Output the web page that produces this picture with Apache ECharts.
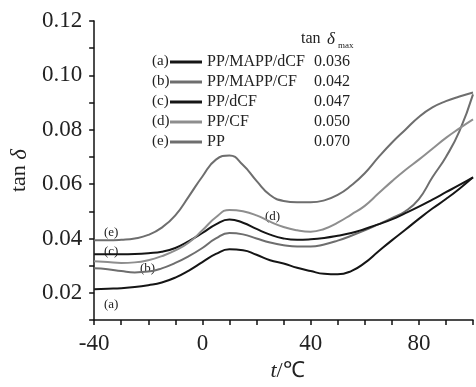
<!DOCTYPE html>
<html>
<head>
<meta charset="utf-8">
<script src="https://cdn.jsdelivr.net/npm/echarts@6/dist/echarts.min.js"></script>
<style>
  html, body { margin: 0; padding: 0; background: #fff; }
  #chart { width: 476px; height: 387px; }
</style>
</head>
<body>
<div id="chart"></div>
<script>
// temperature grid (°C), read every 5 degrees
const temps = [-40, -35, -30, -25, -20, -15, -10, -5, 0, 5, 10, 15, 20, 25, 30, 35, 40, 45, 50, 55, 60, 65, 70, 75, 80, 85, 90, 95, 100];

// tan delta
const tanA = [0.0213, 0.0215, 0.0217, 0.0221, 0.0228, 0.0238, 0.0256, 0.0282, 0.0313, 0.0343, 0.0360, 0.0357, 0.0340, 0.0320, 0.0308, 0.0292, 0.0280, 0.0270, 0.0268, 0.0280, 0.0310, 0.0352, 0.0393, 0.0432, 0.0472, 0.0510, 0.0545, 0.0583, 0.0625];
const tanB = [0.0290, 0.0287, 0.0280, 0.0275, 0.0278, 0.0290, 0.0310, 0.0335, 0.0365, 0.0400, 0.0420, 0.0415, 0.0400, 0.0385, 0.0375, 0.0370, 0.0370, 0.0378, 0.0392, 0.0410, 0.0430, 0.0452, 0.0475, 0.0500, 0.0545, 0.0625, 0.0700, 0.0795, 0.0930];
const tanC = [0.0342, 0.0342, 0.0342, 0.0343, 0.0346, 0.0351, 0.0365, 0.0390, 0.0420, 0.0452, 0.0470, 0.0458, 0.0435, 0.0414, 0.0400, 0.0395, 0.0397, 0.0402, 0.0410, 0.0420, 0.0435, 0.0452, 0.0470, 0.0493, 0.0517, 0.0543, 0.0570, 0.0597, 0.0625];
const tanD = [0.0316, 0.0313, 0.0310, 0.0312, 0.0320, 0.0335, 0.0356, 0.0385, 0.0430, 0.0478, 0.0505, 0.0500, 0.0485, 0.0462, 0.0442, 0.0430, 0.0425, 0.0435, 0.0458, 0.0488, 0.0520, 0.0565, 0.0610, 0.0652, 0.0690, 0.0730, 0.0770, 0.0805, 0.0838];
const tanE = [0.0393, 0.0393, 0.0395, 0.0400, 0.0413, 0.0440, 0.0485, 0.0555, 0.0628, 0.0690, 0.0705, 0.0670, 0.0612, 0.0560, 0.0538, 0.0533, 0.0533, 0.0540, 0.0560, 0.0595, 0.0640, 0.0698, 0.0752, 0.0800, 0.0847, 0.0882, 0.0905, 0.0922, 0.0937];

const tags = ["(a)", "(b)", "(c)", "(d)", "(e)"];
const names = ["PP/MAPP/dCF", "PP/MAPP/CF", "PP/dCF", "PP/CF", "PP"];
const tanMax = ["0.036", "0.042", "0.047", "0.050", "0.070"];
const colors = ["#151515", "#6e6e6e", "#151515", "#8e8e8e", "#6e6e6e"];
const values = [tanA, tanB, tanC, tanD, tanE];

const serif = "'Liberation Serif', 'Times New Roman', serif";

const chart = echarts.init(document.getElementById("chart"));

const rowTop = 62;
const rowGap = 20;

const graphic = [];
tags.forEach((t, i) => {
  graphic.push({
    type: "text", left: 152, top: rowTop + i * rowGap - 8,
    style: { text: t, font: "15px " + serif, fill: "#222" },
  });
});
graphic.push(
  { type: "text", left: 301, top: 31, style: { text: "tan ", font: "16px " + serif, fill: "#222" } },
  { type: "text", left: 327, top: 31, style: { text: "δ", font: "italic 17px " + serif, fill: "#222" } },
  { type: "text", left: 338, top: 41, style: { text: "max", font: "9px " + serif, fill: "#222" } },
  // curve tags
  { type: "text", left: 104, top: 226, style: { text: "(e)", font: "13px " + serif, fill: "#222" } },
  { type: "text", left: 104, top: 245, style: { text: "(c)", font: "13px " + serif, fill: "#222" } },
  { type: "text", left: 140, top: 262, style: { text: "(b)", font: "13px " + serif, fill: "#222" } },
  { type: "text", left: 104, top: 298, style: { text: "(a)", font: "13px " + serif, fill: "#222" } },
  { type: "text", left: 265, top: 210, style: { text: "(d)", font: "13px " + serif, fill: "#222" } }
);

const option = {
  animation: false,
  backgroundColor: "#fff",
  grid: { left: 92, right: 1, top: 21, bottom: 61, containLabel: false },

  legend: {
    orient: "vertical",
    left: 170,
    top: rowTop - 8,
    padding: 0,
    itemGap: 4,
    itemWidth: 32,
    itemHeight: 3,
    icon: "rect",
    data: names,
    formatter: (name) => `{n|${name}}{v|${tanMax[names.indexOf(name)]}}`,
    textStyle: {
      fontFamily: serif,
      fontSize: 16,
      lineHeight: 16,
      color: "#222",
      rich: {
        n: { width: 107, fontFamily: serif, fontSize: 16, lineHeight: 16, color: "#222" },
        v: { fontFamily: serif, fontSize: 16, lineHeight: 16, color: "#222" },
      },
    },
  },

  xAxis: {
    type: "value",
    min: -40,
    max: 100,
    interval: 10,
    name: "{i|t}{r|/℃}",
    nameLocation: "middle",
    nameGap: 40,
    nameTextStyle: {
      padding: [0, 0, 0, 8],
      rich: {
        i: { fontFamily: serif, fontStyle: "italic", fontSize: 22, color: "#222" },
        r: { fontFamily: serif, fontSize: 22, color: "#222" },
      },
    },
    axisLine: { onZero: false, lineStyle: { color: "#111", width: 1.5 } },
    axisTick: { length: 5, lineStyle: { color: "#111", width: 1.5 } },
    axisLabel: {
      margin: 12,
      fontFamily: serif,
      fontSize: 23,
      color: "#222",
      formatter: (v) => (Math.abs(v) % 40 === 0 ? String(v) : ""),
    },
    splitLine: { show: false },
  },

  yAxis: {
    type: "value",
    min: 0.01,
    max: 0.12,
    interval: 0.01,
    name: "{a|tan }{b|δ}",
    nameLocation: "middle",
    nameRotate: 90,
    nameGap: 58,
    nameTextStyle: {
      rich: {
        a: { fontFamily: serif, fontSize: 22, color: "#222" },
        b: { fontFamily: serif, fontStyle: "italic", fontSize: 23, color: "#222" },
      },
    },
    axisLine: { show: true, onZero: false, lineStyle: { color: "#111", width: 1.5 } },
    axisTick: { show: true, length: 5, lineStyle: { color: "#111", width: 1.5 } },
    axisLabel: {
      margin: 12,
      fontFamily: serif,
      fontSize: 23,
      color: "#222",
      formatter: (v) => (Math.round(v * 100) % 2 === 0 ? v.toFixed(2) : ""),
    },
    splitLine: { show: false },
  },

  series: names.map((name, i) => ({
    name: name,
    type: "line",
    smooth: true,
    symbol: "none",
    data: temps.map((t, k) => [t, values[i][k]]),
    lineStyle: { width: 2, color: colors[i] },
    itemStyle: { color: colors[i] },
  })),

  graphic: graphic,
};

chart.setOption(option);
</script>
</body>
</html>
